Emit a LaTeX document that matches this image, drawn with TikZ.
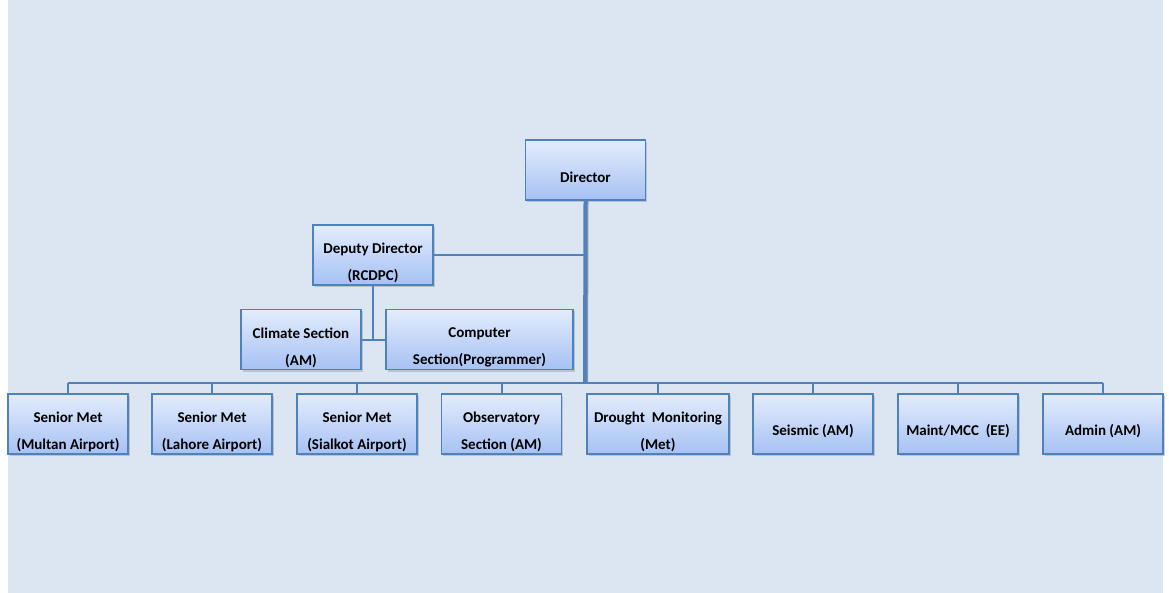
\documentclass[tikz,border=0pt]{standalone}
\usepackage{fontspec}
\setmainfont{Carlito}
\usetikzlibrary{shadows}
\definecolor{pageblue}{HTML}{DCE6F2}
\definecolor{lineblue}{HTML}{4F81BD}
\definecolor{boxtop}{HTML}{E3ECFC}
\definecolor{boxbot}{HTML}{A6C1F3}
\tikzset{unit/.style={draw=lineblue,line width=1.6pt,top color=boxtop,bottom color=boxbot,
    minimum width=120pt,minimum height=60pt,inner sep=0pt,
    drop shadow={shadow xshift=1.5pt,shadow yshift=-2pt,fill=black!45,opacity=.4}},
  unit text/.style={font=\bfseries\fontsize{15}{27}\selectfont,align=center,yshift=-8pt},
  link/.style={draw=lineblue,line width=2pt}}
\begin{document}
\begin{tikzpicture}[x=1pt,y=-1pt]
 \useasboundingbox (0,0) rectangle (1169,593);
 \fill[white] (0,0) rectangle (1169,593);
 \fill[pageblue] (8,0) rectangle (1163,593);
 % top of the chart
 \node[unit,label={[unit text,yshift=1pt]center:Director}] (dir) at (585.5,170) {};
 \node[unit,label={[unit text]center:Deputy Director\\(RCDPC)}] (dep) at (373,255) {};
 \node[unit,label={[unit text]center:Climate Section\\(AM)}] (clim) at (301,339.5) {};
 \node[unit,minimum width=187pt,label={[unit text]center:Computer\\Section(Programmer)}] (comp) at (479.5,339.5) {};
 % bottom row
 \node[unit,label={[unit text]center:Senior Met\\(Multan Airport)}] (mul) at (68,424) {};
 \node[unit,label={[unit text]center:Senior Met\\(Lahore Airport)}] (lah) at (212,424) {};
 \node[unit,label={[unit text]center:Senior Met\\(Sialkot Airport)}] (sia) at (357,424) {};
 \node[unit,label={[unit text]center:Observatory\\Section (AM)}] (obs) at (501.5,424) {};
 \node[unit,minimum width=142pt,label={[unit text]center:Drought~ Monitoring\\(Met)}] (dro) at (658,424) {};
 \node[unit,label={[unit text,yshift=1pt]center:Seismic (AM)}] (sei) at (813,424) {};
 \node[unit,label={[unit text,yshift=1pt]center:Maint/MCC~ (EE)}] (mcc) at (958,424) {};
 \node[unit,label={[unit text,yshift=1pt]center:Admin (AM)}] (adm) at (1103,424) {};
 % connectors
 \coordinate (trunk) at (585,383);
 \coordinate (busl) at (mul.north|-trunk);
 \coordinate (busr) at (adm.north|-trunk);
 \draw[link] (busl) -- (busr);
 \foreach \u in {mul,lah,sia,obs,dro,sei,mcc,adm}
   \draw[link] (\u.north|-trunk) -- (\u.north);
 \draw[link] (dep.east) -- (dep.east-|trunk);
 \draw[link] (dep.south) -- ++(0,54) coordinate (dsub);
 \draw[link] (clim.east|-dsub) -- (comp.west|-dsub);
 \draw[black!40,line width=2pt] ([xshift=2pt]dir.south) -- ([xshift=2pt,yshift=1pt]trunk);
 \draw[lineblue,line width=4pt] (dir.south) -- (trunk);
\end{tikzpicture}
\end{document}
